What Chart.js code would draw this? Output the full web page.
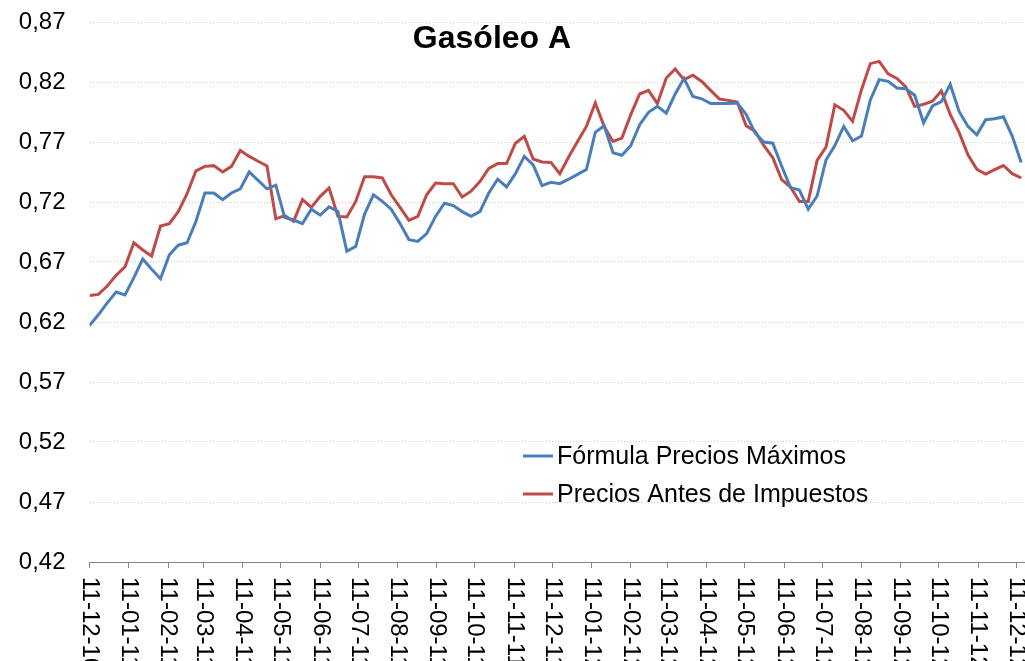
<!DOCTYPE html>
<html lang="es">
<head>
    <meta charset="UTF-8">
    <title>Gasóleo A</title>
    <script src="https://cdn.jsdelivr.net/npm/chart.js"></script>
    <style>
        body {
            margin: 0;
            background: #fff;
        }
        #chart-container {
            width: 1025px;
            height: 661px;
        }
    </style>
</head>
<body>

    <div id="chart-container">
        <canvas id="gasoleoChart"></canvas>
    </div>

    <script>
        // Datos semanales (precios en €/litro)
        const titulo = 'Gasóleo A';
        const primeraSemana = '11-12-10';
        const diasEntreDatos = 7;

        const serieFormula = [
            0.617, 0.626, 0.636, 0.645, 0.6425, 0.657, 0.6725, 0.664, 0.656, 0.676,
            0.684, 0.686, 0.704, 0.7275, 0.7275, 0.722, 0.7275, 0.731, 0.745, 0.738,
            0.731, 0.734, 0.707, 0.705, 0.702, 0.714, 0.709, 0.716, 0.712, 0.679,
            0.683, 0.710, 0.726, 0.7205, 0.714, 0.702, 0.6886, 0.6872, 0.6936, 0.708,
            0.719, 0.717, 0.712, 0.708, 0.712, 0.7275, 0.739, 0.7325, 0.7436, 0.758,
            0.751, 0.7336, 0.7364, 0.7353, 0.739, 0.743, 0.747, 0.778, 0.7836, 0.761,
            0.759, 0.767, 0.7844, 0.7947, 0.7997, 0.794, 0.810, 0.823, 0.808, 0.806,
            0.802, 0.802, 0.802, 0.8025, 0.793, 0.7775, 0.770, 0.769, 0.750, 0.732,
            0.730, 0.714, 0.725, 0.755, 0.767, 0.783, 0.771, 0.775, 0.805, 0.822,
            0.8205, 0.815, 0.8144, 0.809, 0.786, 0.800, 0.8036, 0.818, 0.7955, 0.783,
            0.776, 0.7886, 0.7894, 0.791, 0.7747, 0.753
        ];

        const serieAntesImpuestos = [
            0.642, 0.643, 0.650, 0.659, 0.666, 0.686, 0.680, 0.675, 0.700, 0.702,
            0.712, 0.727, 0.746, 0.7497, 0.7503, 0.745, 0.7497, 0.763, 0.758, 0.754,
            0.750, 0.706, 0.7086, 0.704, 0.722, 0.7155, 0.7247, 0.7317, 0.708, 0.7075,
            0.7205, 0.741, 0.741, 0.740, 0.726, 0.7155, 0.7047, 0.708, 0.726, 0.7358,
            0.7353, 0.7353, 0.7242, 0.729, 0.737, 0.748, 0.752, 0.752, 0.769, 0.7747,
            0.7558, 0.7533, 0.753, 0.7436, 0.7575, 0.7705, 0.783, 0.8025, 0.783, 0.7705,
            0.7733, 0.7928, 0.810, 0.813, 0.802, 0.8233, 0.8308, 0.822, 0.8257, 0.8205,
            0.813, 0.8058, 0.8047, 0.8033, 0.7836, 0.779, 0.767, 0.757, 0.7386, 0.7325,
            0.7205, 0.7205, 0.7547, 0.7658, 0.801, 0.7964, 0.7872, 0.8136, 0.8353, 0.8372,
            0.8268, 0.823, 0.816, 0.7995, 0.8014, 0.804, 0.8125, 0.793, 0.778, 0.7594,
            0.7472, 0.7433, 0.7469, 0.7504, 0.7436, 0.740
        ];

        // Etiquetas del eje X (una por mes)
        const etiquetasMes = [
            '11-12-10', '11-01-11', '11-02-11', '11-03-11', '11-04-11', '11-05-11',
            '11-06-11', '11-07-11', '11-08-11', '11-09-11', '11-10-11', '11-11-11',
            '11-12-11', '11-01-12', '11-02-12', '11-03-12', '11-04-12', '11-05-12',
            '11-06-12', '11-07-12', '11-08-12', '11-09-12', '11-10-12', '11-11-12',
            '11-12-12'
        ];

        // Etiquetas del eje Y
        const valoresEjeY = [0.42, 0.47, 0.52, 0.57, 0.62, 0.67, 0.72, 0.77, 0.82, 0.87];

        const nombresSeries = ['Fórmula Precios Máximos', 'Precios Antes de Impuestos'];
        const coloresSeries = ['#4a7ebb', '#be4b48'];

        // dd-mm-aa -> días desde la primera semana
        function diaDesdeInicio(etiqueta) {
            const p = etiqueta.split('-').map(Number);
            const q = primeraSemana.split('-').map(Number);
            const a = Date.UTC(2000 + p[2], p[1] - 1, p[0]);
            const b = Date.UTC(2000 + q[2], q[1] - 1, q[0]);
            return Math.round((a - b) / 86400000);
        }

        const diasTicks = etiquetasMes.map(diaDesdeInicio);

        function aPuntos(serie) {
            return serie.map((v, i) => ({ x: i * diasEntreDatos, y: v }));
        }

        const fuente = "'Liberation Sans', Arial, sans-serif";

        // Título, leyenda y etiquetas giradas del eje X
        const extras = {
            id: 'extras',
            afterDraw(chart) {
                const ctx = chart.ctx;
                const xs = chart.scales.x;

                ctx.save();
                ctx.fillStyle = '#000';
                ctx.font = 'bold 32px ' + fuente;
                ctx.textAlign = 'center';
                ctx.textBaseline = 'middle';
                ctx.fillText(titulo, 492, 39);

                // leyenda
                ctx.font = '25px ' + fuente;
                ctx.textAlign = 'left';
                nombresSeries.forEach((nombre, k) => {
                    const y = 456 + k * 38;
                    ctx.strokeStyle = coloresSeries[k];
                    ctx.lineWidth = 3;
                    ctx.beginPath();
                    ctx.moveTo(523, y);
                    ctx.lineTo(553, y);
                    ctx.stroke();
                    ctx.fillText(nombre, 557, y + 1);
                });

                // etiquetas del eje X, leídas de arriba abajo
                ctx.font = '24px ' + fuente;
                ctx.textBaseline = 'middle';
                etiquetasMes.forEach((et, k) => {
                    const x = xs.getPixelForValue(diasTicks[k]);
                    ctx.save();
                    ctx.translate(x, xs.top + 15);
                    ctx.rotate(Math.PI / 2);
                    ctx.fillText(et, 0, 0);
                    ctx.restore();
                });
                ctx.restore();
            }
        };

        const ctx = document.getElementById('gasoleoChart').getContext('2d');
        const grafico = new Chart(ctx, {
            type: 'line',
            data: {
                datasets: [
                    {
                        label: nombresSeries[0],
                        data: aPuntos(serieFormula),
                        borderColor: coloresSeries[0],
                        borderWidth: 3,
                        pointRadius: 0,
                        tension: 0,
                        fill: false
                    },
                    {
                        label: nombresSeries[1],
                        data: aPuntos(serieAntesImpuestos),
                        borderColor: coloresSeries[1],
                        borderWidth: 3,
                        pointRadius: 0,
                        tension: 0,
                        fill: false
                    }
                ]
            },
            options: {
                responsive: true,
                maintainAspectRatio: false,
                animation: false,
                layout: { padding: { top: 22, left: 0, right: 0, bottom: 0 } },
                plugins: {
                    legend: { display: false },
                    title: { display: false },
                    tooltip: { enabled: false }
                },
                scales: {
                    x: {
                        type: 'linear',
                        min: 0,
                        max: 738,
                        afterBuildTicks: (s) => { s.ticks = diasTicks.map(v => ({ value: v })); },
                        afterFit: (s) => { s.height = 99; s.paddingLeft = 0; s.paddingRight = 0; },
                        ticks: { display: false },
                        grid: {
                            drawOnChartArea: false,
                            drawTicks: true,
                            tickLength: 6,
                            color: '#868686'
                        },
                        border: { display: true, color: '#868686', width: 1 }
                    },
                    y: {
                        min: 0.42,
                        max: 0.87,
                        afterBuildTicks: (s) => { s.ticks = valoresEjeY.map(v => ({ value: v })); },
                        afterFit: (s) => { s.width = 89.5; s.paddingTop = 0; s.paddingBottom = 0; },
                        ticks: {
                            color: '#000',
                            padding: 24,
                            font: { family: fuente, size: 24 },
                            callback: (v) => v.toFixed(2).replace('.', ',')
                        },
                        grid: {
                            drawTicks: false,
                            color: '#d6cfae',
                            lineWidth: 1
                        },
                        border: { display: false, dash: [1, 2] }
                    }
                }
            },
            plugins: [extras]
        });
    </script>
</body>
</html>
